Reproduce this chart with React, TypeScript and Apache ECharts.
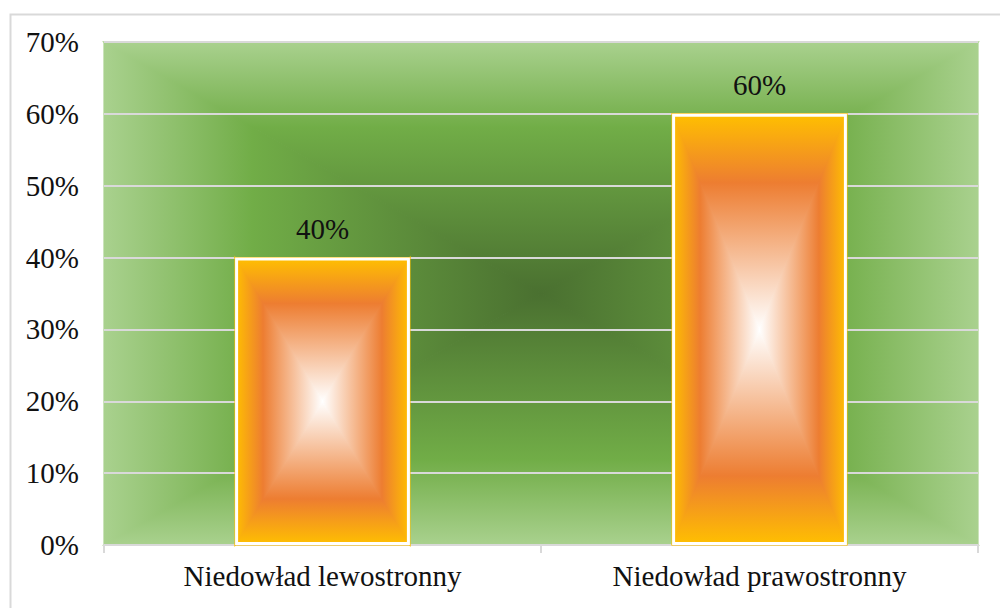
import React, { useEffect, useRef } from "react";
import * as echarts from "echarts";

// Share of patients by side of paresis
const categories = ["Niedowład lewostronny", "Niedowład prawostronny"];
const shares = [40, 60];

// Value axis range (percent)
const axisMin = 0;
const axisMax = 70;
const axisStep = 10;

// Colour ramps for the rectangular (edge -> centre) gradients
const plotStops = [
  { offset: 0, color: "#A9D18E" },
  { offset: 0.34, color: "#71AD47" },
  { offset: 1, color: "#4A7030" },
];
const barStops = [
  { offset: 0, color: "#FFC000" },
  { offset: 0.32, color: "#ED7D31" },
  { offset: 1, color: "#FFFFFF" },
];

const FONT = "'Liberation Serif', 'Times New Roman', serif";
const GRID_GREY = "#D9D9D9";

// A rectangle filled with a "from centre" gradient, built from four triangles
// that each carry a linear gradient running from their outer edge to the centre.
function rectGradient(x0: number, y0: number, x1: number, y1: number, stops: any[]) {
  const cx = (x0 + x1) / 2;
  const cy = (y0 + y1) / 2;
  const grad = (a: number, b: number, c: number, d: number) =>
    new echarts.graphic.LinearGradient(a, b, c, d, stops);
  const tri = (pts: number[][], g: [number, number, number, number]) => ({
    type: "polygon",
    shape: { points: pts },
    style: { fill: grad(...g), stroke: grad(...g), lineWidth: 1.2 },
  });
  return [
    tri([[x0, y0], [x1, y0], [cx, cy]], [0, 0, 0, 1]),
    tri([[x0, y1], [x1, y1], [cx, cy]], [0, 1, 0, 0]),
    tri([[x0, y0], [x0, y1], [cx, cy]], [0, 0, 1, 0]),
    tri([[x1, y0], [x1, y1], [cx, cy]], [1, 0, 0, 0]),
  ];
}

export default function App() {
  const ref = useRef<HTMLDivElement>(null);

  useEffect(() => {
    if (!ref.current) return;
    const chart = echarts.init(ref.current, null, { renderer: "svg" });

    chart.setOption({
      animation: false,
      graphic: [
        {
          type: "rect",
          left: 8,
          top: 12,
          shape: { x: 0, y: 0, width: 1000, height: 610 },
          style: { fill: "none", stroke: GRID_GREY, lineWidth: 2 },
          silent: true,
        },
      ],
      grid: { left: 104, right: 22, top: 42, bottom: 63 },
      xAxis: {
        type: "category",
        data: categories,
        axisLine: { lineStyle: { color: GRID_GREY, width: 2 } },
        axisTick: { show: true, length: 8, lineStyle: { color: GRID_GREY, width: 2 } },
        axisLabel: { fontFamily: FONT, fontSize: 29, color: "#111", margin: 16 },
        splitLine: { show: false },
      },
      yAxis: {
        type: "value",
        min: axisMin,
        max: axisMax,
        interval: axisStep,
        axisLine: { show: false },
        axisTick: { show: false },
        axisLabel: {
          fontFamily: FONT,
          fontSize: 29,
          color: "#111",
          margin: 25,
          formatter: "{value}%",
        },
        splitLine: { lineStyle: { color: GRID_GREY, width: 2 } },
      },
      series: [
        {
          // plot-area background
          type: "custom",
          z: -1,
          silent: true,
          data: [0],
          renderItem: (params: any) => {
            const cs = params.coordSys;
            return {
              type: "group",
              children: rectGradient(cs.x, cs.y, cs.x + cs.width, cs.y + cs.height, plotStops),
            };
          },
        },
        {
          // bar fills
          type: "custom",
          z: 2,
          silent: true,
          encode: { x: 0, y: 1 },
          data: shares.map((v, i) => [i, v]),
          renderItem: (_params: any, api: any) => {
            const i = api.value(0);
            const v = api.value(1);
            const top = api.coord([i, v]);
            const base = api.coord([i, 0]);
            const bw = api.size([1, 0])[0] * 0.4;
            return {
              type: "group",
              children: rectGradient(top[0] - bw / 2, top[1], top[0] + bw / 2, base[1], barStops),
            };
          },
        },
        {
          // bar outlines and value labels
          type: "bar",
          z: 3,
          barWidth: "40%",
          data: shares,
          itemStyle: { color: "rgba(0,0,0,0)", borderColor: "#FFFFFF", borderWidth: 3 },
          label: {
            show: true,
            position: "top",
            distance: 14,
            fontFamily: FONT,
            fontSize: 29,
            color: "#111",
            formatter: (p: any) => `${p.value}%`,
          },
        },
      ],
    });

    return () => chart.dispose();
  }, []);

  return (
    <div
      ref={ref}
      style={{ position: "absolute", left: 0, top: 0, width: 1000, height: 608, background: "#fff" }}
    />
  );
}
